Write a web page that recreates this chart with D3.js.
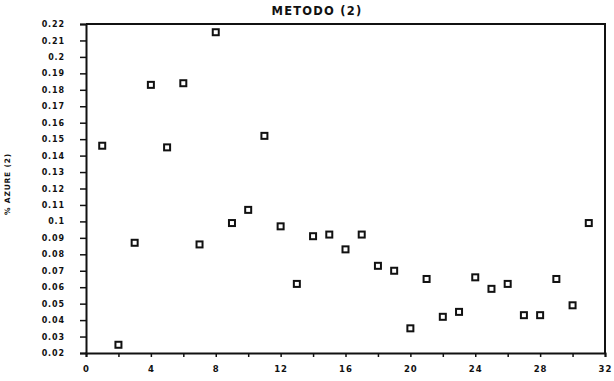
<!DOCTYPE html>
<html>
<head>
<meta charset="utf-8">
<script src="https://cdn.jsdelivr.net/npm/d3@7"></script>
<style>
    body { margin: 0; background: #fff; }
    svg text { font-family: "DejaVu Sans", Arial, sans-serif; font-weight: bold; fill: #111; }
</style>
</head>
<body>
<svg id="chart"></svg>
<script>
// Scatter of % AZURE (2) per sample, method 2

const WIDTH = 614;
const HEIGHT = 381;

const titleText = "METODO (2)";
const yLabelText = "% AZURE (2)";

const sampleIds = [1, 2, 3, 4, 5, 6, 7, 8, 9, 10, 11, 12, 13, 14, 15, 16,
    17, 18, 19, 20, 21, 22, 23, 24, 25, 26, 27, 28, 29, 30, 31];
const azureValues = [0.146, 0.025, 0.087, 0.183, 0.145, 0.184, 0.086, 0.215,
    0.099, 0.107, 0.152, 0.097, 0.062, 0.091, 0.092, 0.083, 0.092, 0.073,
    0.070, 0.035, 0.065, 0.042, 0.045, 0.066, 0.059, 0.062, 0.043, 0.043,
    0.065, 0.049, 0.099];

const xTicks = [0, 2, 4, 6, 8, 10, 12, 14, 16, 18, 20, 22, 24, 26, 28, 30, 32];
const xTickLabels = ["0", "", "4", "", "8", "", "12", "", "16", "", "20", "", "24", "", "28", "", "32"];
const yTicks = [0.02, 0.03, 0.04, 0.05, 0.06, 0.07, 0.08, 0.09, 0.1, 0.11, 0.12,
    0.13, 0.14, 0.15, 0.16, 0.17, 0.18, 0.19, 0.2, 0.21, 0.22];
const yTickLabels = ["0.02", "0.03", "0.04", "0.05", "0.06", "0.07", "0.08", "0.09", "0.1", "0.11", "0.12",
    "0.13", "0.14", "0.15", "0.16", "0.17", "0.18", "0.19", "0.2", "0.21", "0.22"];

const margin = { top: 24, right: 9, bottom: 28, left: 86 };
const innerW = WIDTH - margin.left - margin.right;
const innerH = HEIGHT - margin.top - margin.bottom;

const svg = d3.select("#chart")
    .attr("width", WIDTH)
    .attr("height", HEIGHT);

const g = svg.append("g")
    .attr("transform", `translate(${margin.left},${margin.top})`);

const x = d3.scaleLinear().domain([0, 32]).range([0, innerW]);
const y = d3.scaleLinear().domain([0.02, 0.22]).range([innerH, 0]);

// frame (top + right)
g.append("path")
    .attr("d", `M0,0H${innerW}V${innerH}`)
    .attr("fill", "none")
    .attr("stroke", "#111")
    .attr("stroke-width", 2);

// x axis
const xAxis = g.append("g")
    .attr("transform", `translate(0,${innerH})`)
    .call(d3.axisBottom(x)
        .tickValues(xTicks)
        .tickSize(4)
        .tickFormat((d, i) => xTickLabels[i]));
xAxis.select(".domain").attr("stroke", "#111").attr("stroke-width", 2);
xAxis.selectAll(".tick line").attr("stroke", "#111").attr("stroke-width", 1.5);
xAxis.selectAll(".tick text")
    .attr("y", 13)
    .attr("font-size", "8.5px")
    .style("letter-spacing", "1px");

// y axis
const yAxis = g.append("g")
    .call(d3.axisLeft(y)
        .tickValues(yTicks)
        .tickSize(6)
        .tickPadding(15)
        .tickFormat((d, i) => yTickLabels[i]));
yAxis.select(".domain").attr("stroke", "#111").attr("stroke-width", 2);
yAxis.selectAll(".tick line").attr("stroke", "#111").attr("stroke-width", 1.5);
yAxis.selectAll(".tick text")
    .attr("font-size", "8px")
    .style("letter-spacing", "0.9px");

// markers
const size = 6;
g.selectAll("rect.pt")
    .data(sampleIds)
    .join("rect")
    .attr("class", "pt")
    .attr("x", d => x(d) - size / 2)
    .attr("y", (d, i) => y(azureValues[i]) - size / 2)
    .attr("width", size)
    .attr("height", size)
    .attr("fill", "#fff")
    .attr("stroke", "#111")
    .attr("stroke-width", 2);

// title
svg.append("text")
    .attr("x", 317)
    .attr("y", 15)
    .attr("text-anchor", "middle")
    .attr("font-size", "11.5px")
    .style("letter-spacing", "1.2px")
    .text(titleText);

// y label
svg.append("text")
    .attr("transform", "translate(10,184) rotate(-90)")
    .attr("text-anchor", "middle")
    .attr("font-size", "7.5px")
    .style("letter-spacing", "0.8px")
    .text(yLabelText);
</script>
</body>
</html>
